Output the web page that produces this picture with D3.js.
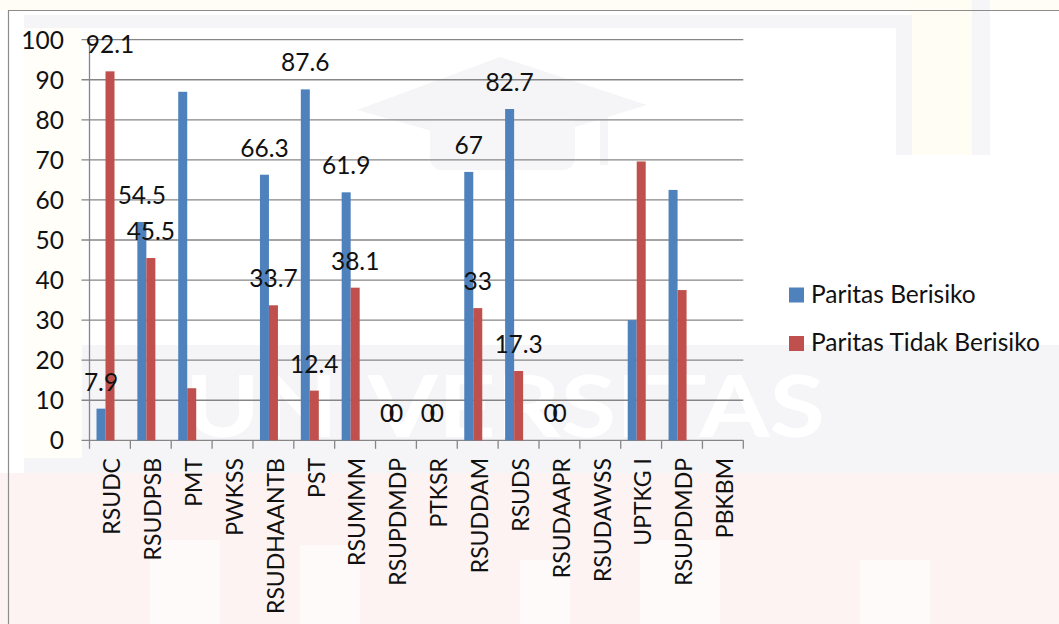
<!DOCTYPE html>
<html>
<head>
<meta charset="utf-8">
<script src="https://cdn.jsdelivr.net/npm/d3@7"></script>
<style>
  html, body { margin: 0; padding: 0; background: #ffffff; }
  svg { display: block; }
  text { font-family: "Lato", "Noto Sans", sans-serif; fill: #111; }
</style>
</head>
<body>
<svg id="chart" width="1059" height="624"></svg>
<script>
// Hospitals / health facilities on the category axis (one name occurs twice)
const categories = ["RSUDC", "RSUDPSB", "PMT", "PWKSS", "RSUDHAANTB", "PST", "RSUMMM",
  "RSUPDMDP", "PTKSR", "RSUDDAM", "RSUDS", "RSUDAAPR", "RSUDAWSS", "UPTKG I", "RSUPDMDP", "PBKBM"];

// Percentages per facility; null = no data for that facility
const paritasBerisiko      = [7.9, 54.5, 87, null, 66.3, 87.6, 61.9, 0, 0, 67, 82.7, 0, null, 30, 62.5, null];
const paritasTidakBerisiko = [92.1, 45.5, 13, null, 33.7, 12.4, 38.1, 0, 0, 33, 17.3, 0, null, 69.6, 37.5, null];

// Whether a facility's bars carry a value label
const showLabel = [true, true, false, false, true, true, true, true, true, true, true, true, false, false, false, false];

const seriesNames = ["Paritas Berisiko", "Paritas Tidak Berisiko"];
const seriesColors = ["#4f81bd", "#c0504d"];
const yTicks = [0, 10, 20, 30, 40, 50, 60, 70, 80, 90, 100];

const svg = d3.select("#chart");

// ---- faint background watermark -------------------------------------------
const bg = svg.append("g");
bg.append("rect").attr("x", 0).attr("y", 0).attr("width", 1059).attr("height", 10).attr("fill", "#fffdf6");
bg.append("rect").attr("x", 910).attr("y", 0).attr("width", 62).attr("height", 155).attr("fill", "#fffdf4");
bg.append("rect").attr("x", 972).attr("y", 0).attr("width", 18).attr("height", 155).attr("fill", "#f6f6f8");
bg.append("rect").attr("x", 24).attr("y", 15).attr("width", 888).attr("height", 140).attr("fill", "#f5f5f7");
bg.append("rect").attr("x", 30).attr("y", 28).attr("width", 866).attr("height", 330).attr("fill", "#ffffff");
bg.append("rect").attr("x", 24).attr("y", 345).attr("width", 1035).attr("height", 128).attr("fill", "#f5f5f7");
bg.append("rect").attr("x", 0).attr("y", 473).attr("width", 1059).attr("height", 151).attr("fill", "#fdf3f3");
bg.append("rect").attr("x", 24).attr("y", 28).attr("width", 58).attr("height", 430).attr("fill", "#fffef8");
// mortarboard emblem
bg.append("polygon").attr("points", "357,110 500,57 647,105 500,150").attr("fill", "#f5f5f7");
bg.append("rect").attr("x", 430).attr("y", 115).attr("width", 145).attr("height", 55).attr("rx", 12).attr("fill", "#f6f6f8");
bg.append("rect").attr("x", 600).attr("y", 105).attr("width", 8).attr("height", 60).attr("fill", "#f5f5f7");
bg.append("text").attr("x", 185).attr("y", 437).attr("textLength", 640)
  .attr("lengthAdjust", "spacingAndGlyphs")
  .style("font-size", "86px").style("font-weight", "700").style("fill", "#ffffff")
  .text("UNIVERSITAS");
// large pale blocks in the lower band
[[150, 540, 70, 84], [300, 545, 60, 79], [520, 560, 50, 64], [640, 540, 80, 84], [860, 560, 70, 64]]
  .forEach(([bx, by, bwid, bh]) => bg.append("rect").attr("x", bx).attr("y", by)
    .attr("width", bwid).attr("height", bh).attr("fill", "#fefafa"));

// chart frame
svg.append("line").attr("x1", 8).attr("x2", 1059).attr("y1", 10.5).attr("y2", 10.5)
  .attr("stroke", "#8c8c8c").attr("stroke-width", 1.2);
svg.append("line").attr("x1", 8.5).attr("x2", 8.5).attr("y1", 10.5).attr("y2", 624)
  .attr("stroke", "#8c8c8c").attr("stroke-width", 1.2);

// ---- scales ---------------------------------------------------------------
const plot = { left: 89.5, right: 743.3, top: 39.7, bottom: 440.3 };
const idx = d3.range(categories.length);

const x = d3.scaleBand().domain(idx).range([plot.left, plot.right]).padding(0);
const bw = 9; // bar width
const x1 = d3.scaleBand().domain([0, 1]).range([7, 7 + 2 * bw]).padding(0);
const y = d3.scaleLinear().domain([0, 100]).range([plot.bottom, plot.top]);

const fs = 24.5;
const fsCat = 23;

// gridlines + y labels
const gy = svg.append("g");
gy.selectAll("line.grid").data(yTicks).join("line")
  .attr("x1", plot.left - 8).attr("x2", plot.right)
  .attr("y1", d => y(d)).attr("y2", d => y(d))
  .attr("stroke", "#868686").attr("stroke-width", 1.3);
gy.selectAll("text").data(yTicks).join("text")
  .attr("x", 64).attr("y", d => y(d)).attr("dy", "0.36em")
  .attr("text-anchor", "end").style("font-size", fs + "px")
  .text(d => d);

// left axis line
svg.append("line").attr("x1", plot.left).attr("x2", plot.left)
  .attr("y1", y(100)).attr("y2", y(0)).attr("stroke", "#868686").attr("stroke-width", 1.3);

// bottom category ticks (at band edges)
const edges = idx.map(i => x(i)).concat([x(idx.length - 1) + x.bandwidth()]);
svg.append("g").selectAll("line").data(edges).join("line")
  .attr("x1", d => d).attr("x2", d => d)
  .attr("y1", y(0)).attr("y2", y(0) + 8.5)
  .attr("stroke", "#868686").attr("stroke-width", 1.3);

// category labels, rotated
svg.append("g").selectAll("text").data(idx).join("text")
  .attr("transform", i => `translate(${x(i) + x.bandwidth() / 2 + 2},458) rotate(-90)`)
  .attr("text-anchor", "end").attr("dy", "0.36em")
  .style("font-size", fsCat + "px")
  .text(i => categories[i]);

// ---- bars -----------------------------------------------------------------
const seriesValues = [paritasBerisiko, paritasTidakBerisiko];
seriesValues.forEach((vals, s) => {
  const g = svg.append("g");
  const pts = idx.filter(i => vals[i] !== null);
  g.selectAll("rect").data(pts.filter(i => vals[i] > 0)).join("rect")
    .attr("x", i => x(i) + x1(s))
    .attr("width", x1.bandwidth())
    .attr("y", i => y(vals[i]))
    .attr("height", i => y(0) - y(vals[i]))
    .attr("fill", seriesColors[s]);
});

// value labels
seriesValues.forEach((vals, s) => {
  const pts = idx.filter(i => vals[i] !== null && showLabel[i]);
  svg.append("g").selectAll("text").data(pts).join("text")
    .attr("x", i => x(i) + x1(s) + x1.bandwidth() / 2)
    .attr("y", i => y(vals[i]) - 18)
    .attr("text-anchor", "middle")
    .style("font-size", fs + "px")
    .text(i => vals[i]);
});

// ---- legend ---------------------------------------------------------------
const lg = svg.append("g");
seriesNames.forEach((name, s) => {
  lg.append("rect").attr("x", 789).attr("y", 287.5 + s * 48.5).attr("width", 15).attr("height", 15)
    .attr("fill", seriesColors[s]);
  lg.append("text").attr("x", 811).attr("y", 302.7 + s * 48.5)
    .style("font-size", fs + "px").text(name);
});
</script>
</body>
</html>
